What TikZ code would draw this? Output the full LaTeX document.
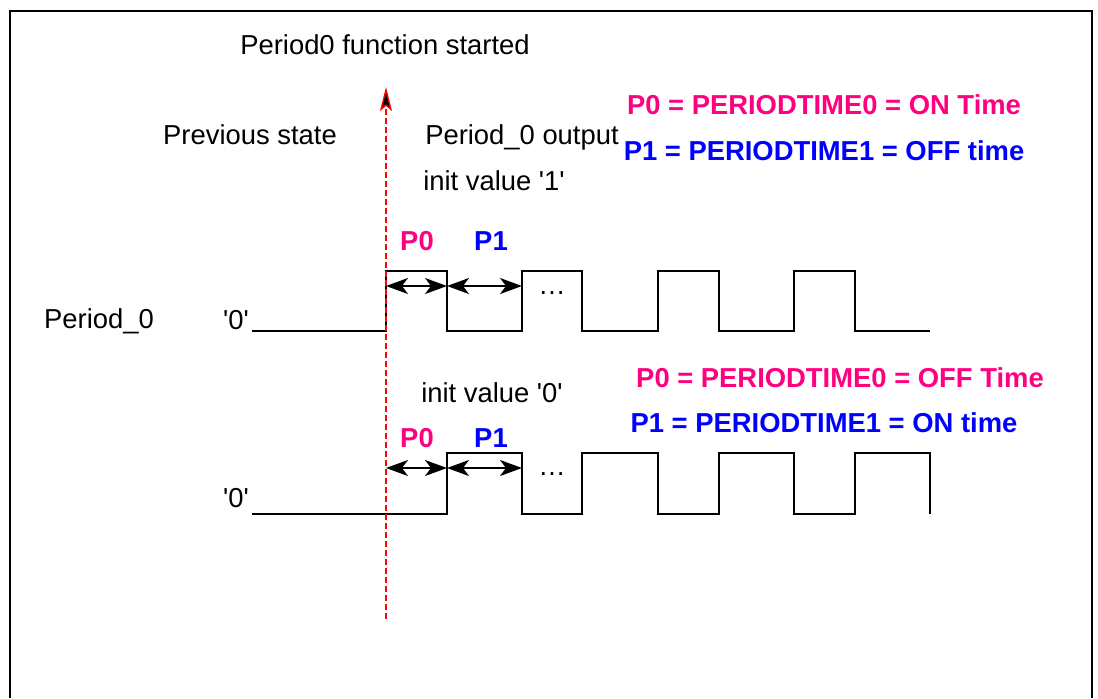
\documentclass[tikz,border=0pt]{standalone}
\usepackage{fontspec}
\setmainfont{Liberation Sans}
\usetikzlibrary{arrows.meta}
\definecolor{onpink}{RGB}{255,0,128}
\definecolor{offblue}{RGB}{0,0,255}

\begin{document}
\begin{tikzpicture}[x=0.5pt, y=-0.5pt,
        txt/.style={font=\fontsize{13.7}{16}\selectfont, anchor=base, inner sep=0pt},
        boldtxt/.style={txt, font=\fontsize{13.7}{16}\selectfont\bfseries},
        wave/.style={black, line width=1pt},
        span/.style={black, line width=0.9pt, {Stealth[length=11pt,width=8pt,inset=3pt]}-{Stealth[length=11pt,width=8pt,inset=3pt]}},
        trig/.style={red, line width=0.75pt, dash pattern=on 3pt off 1.5pt, -{Stealth[length=12pt,width=6pt,inset=2.5pt,fill=black,line width=0.7pt]}}]
        \useasboundingbox (0,0) rectangle (1098,698);

        % frame, open at the bottom
        \draw[black, line width=1pt] (10,698) -- (10,11) -- (1092,11) -- (1092,698);

        % labels
        \node[txt] (title) at (385,54) {Period0 function started};
        \node[txt] (prev) at (250,144) {Previous state};
        \node[txt] (outlbl) at (522,144) {Period\_0 output};
        \node[txt] (initone) at (494,190) {init value \textquotesingle 1\textquotesingle};
        \node[txt] (initzero) at (492,402) {init value \textquotesingle 0\textquotesingle};
        \node[txt] (chan) at (99,328) {Period\_0};
        \node[txt] (lowa) at (236,329) {\textquotesingle 0\textquotesingle};
        \node[txt] (lowb) at (236,507) {\textquotesingle 0\textquotesingle};
        \node[txt] (dotsa) at (552,294) {\ldots};
        \node[txt] (dotsb) at (552,475) {\ldots};

        \node[boldtxt, onpink] (ptimea) at (824,114) {P0 = PERIODTIME0 = ON Time};
        \node[boldtxt, offblue] (ptimeb) at (824,160) {P1 = PERIODTIME1 = OFF time};
        \node[boldtxt, onpink] (ptimec) at (840,387) {P0 = PERIODTIME0 = OFF Time};
        \node[boldtxt, offblue] (ptimed) at (824,432) {P1 = PERIODTIME1 = ON time};

        \node[boldtxt, onpink] (pzeroa) at (417,250) {P0};
        \node[boldtxt, offblue] (pponea) at (491,250) {P1};
        \node[boldtxt, onpink] (pzerob) at (417,447) {P0};
        \node[boldtxt, offblue] (ppneb) at (491,447) {P1};

        % waveform, init value '1'
        \draw[wave] (252,331) -- (386,331) -- (386,271) -- (447,271) -- (447,331)
            -- (522,331) -- (522,271) -- (582,271) -- (582,331)
            -- (658,331) -- (658,271) -- (719,271) -- (719,331)
            -- (794,331) -- (794,271) -- (855,271) -- (855,331) -- (930,331);

        % waveform, init value '0'
        \draw[wave] (252,514) -- (447,514) -- (447,453) -- (522,453) -- (522,514)
            -- (582,514) -- (582,453) -- (658,453) -- (658,514)
            -- (719,514) -- (719,453) -- (794,453) -- (794,514)
            -- (855,514) -- (855,453) -- (930,453) -- (930,514);

        % P0 / P1 spans
        \coordinate (sa0) at (386,286);
        \coordinate (sa1) at (447,286);
        \coordinate (sa2) at (522,286);
        \coordinate (sb0) at (386,468);
        \coordinate (sb1) at (447,468);
        \coordinate (sb2) at (522,468);
        \draw[span] (sa0) -- (sa1);
        \draw[span] (sa1) -- (sa2);
        \draw[span] (sb0) -- (sb1);
        \draw[span] (sb1) -- (sb2);

        % start of the function
        \coordinate (trigbot) at (386,619);
        \coordinate (trigtop) at (386,87);
        \draw[trig] (trigbot) -- (trigtop);
    \end{tikzpicture}
\end{document}
